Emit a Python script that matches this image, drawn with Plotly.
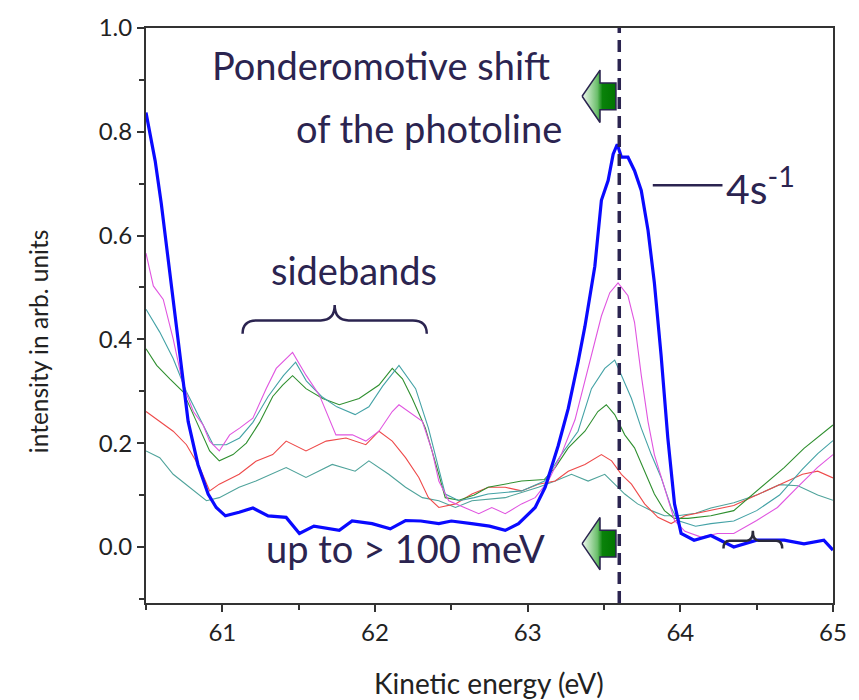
import plotly.graph_objects as go

# ---------------- data ----------------
blue_x = [60.5, 60.56, 60.60, 60.657, 60.72, 60.776, 60.84, 60.907, 60.96, 61.02, 61.11, 61.2, 61.3, 61.418,
          61.505, 61.6, 61.766, 61.85, 61.981, 62.1, 62.2, 62.3, 62.418, 62.5, 62.633, 62.75, 62.853, 62.94,
          63.049, 63.115, 63.2, 63.266, 63.33, 63.375, 63.44, 63.483, 63.527, 63.56, 63.587, 63.614, 63.657,
          63.70, 63.744, 63.788, 63.83, 63.874, 63.918, 63.962, 64.005, 64.09, 64.2, 64.35, 64.5, 64.68,
          64.81, 64.94, 65.0]
blue_y = [0.837, 0.744, 0.662, 0.525, 0.382, 0.242, 0.159, 0.102, 0.076, 0.060, 0.067, 0.075, 0.060, 0.057,
          0.026, 0.040, 0.032, 0.050, 0.045, 0.035, 0.051, 0.050, 0.045, 0.050, 0.045, 0.040, 0.032, 0.045,
          0.076, 0.115, 0.195, 0.267, 0.356, 0.425, 0.541, 0.668, 0.706, 0.757, 0.776, 0.751, 0.751,
          0.725, 0.687, 0.611, 0.509, 0.369, 0.210, 0.083, 0.026, 0.013, 0.022, 0.000, 0.013, 0.013,
          0.006, 0.013, -0.006]

magenta_x = [60.5, 60.548, 60.613, 60.678, 60.743, 60.81, 60.874, 60.917, 60.98, 61.048, 61.113, 61.2, 61.287,
             61.353, 61.46, 61.548, 61.635, 61.70, 61.744, 61.852, 61.94, 62.026, 62.113, 62.157, 62.244, 62.31,
             62.374, 62.418, 62.483, 62.59, 62.68, 62.765, 62.853, 62.96, 63.049, 63.135, 63.22, 63.31, 63.418,
             63.483, 63.538, 63.592, 63.657, 63.70, 63.744, 63.788, 63.83, 63.896, 63.962, 64.03, 64.136,
             64.244, 64.35, 64.5, 64.636, 64.766, 64.897, 65.0]
magenta_y = [0.566, 0.503, 0.477, 0.401, 0.312, 0.261, 0.235, 0.204, 0.185, 0.216, 0.229, 0.248, 0.305,
             0.344, 0.375, 0.331, 0.293, 0.248, 0.216, 0.216, 0.204, 0.223, 0.261, 0.274, 0.255, 0.242,
             0.185, 0.127, 0.089, 0.076, 0.064, 0.076, 0.064, 0.083, 0.095, 0.127, 0.178, 0.245, 0.370,
             0.445, 0.490, 0.509, 0.484, 0.433, 0.331, 0.242, 0.178, 0.115, 0.051, 0.030, 0.019,
             0.026, 0.026, 0.051, 0.076, 0.115, 0.153, 0.178]

teal1_x = [60.5, 60.59, 60.678, 60.765, 60.852, 60.94, 61.026, 61.113, 61.2, 61.3, 61.4, 61.48, 61.55, 61.65,
           61.75, 61.87, 61.96, 62.05, 62.157, 62.266, 62.35, 62.418, 62.46, 62.55, 62.65, 62.74, 62.85, 62.96,
           63.11, 63.22, 63.33, 63.418, 63.505, 63.57, 63.614, 63.68, 63.744, 63.81, 63.874, 63.94, 63.983,
           64.1, 64.2, 64.35, 64.5, 64.65, 64.8, 64.9, 65.0]
teal1_y = [0.458, 0.414, 0.363, 0.299, 0.248, 0.197, 0.197, 0.210, 0.240, 0.290, 0.330, 0.356, 0.320, 0.290,
           0.270, 0.255, 0.270, 0.310, 0.350, 0.305, 0.229, 0.153, 0.102, 0.089, 0.095, 0.102, 0.105, 0.108,
           0.127, 0.178, 0.223, 0.305, 0.344, 0.360, 0.331, 0.286, 0.229, 0.178, 0.134, 0.076, 0.051,
           0.040, 0.045, 0.050, 0.070, 0.100, 0.150, 0.180, 0.205]

green_x = [60.5, 60.57, 60.656, 60.743, 60.83, 60.917, 60.98, 61.07, 61.157, 61.244, 61.33, 61.395, 61.46,
           61.548, 61.657, 61.766, 61.896, 62.026, 62.113, 62.18, 62.244, 62.33, 62.418, 62.46, 62.55, 62.65,
           62.74, 62.96, 63.11, 63.18, 63.266, 63.375, 63.46, 63.515, 63.57, 63.636, 63.70, 63.766, 63.83,
           63.896, 63.96, 64.05, 64.2, 64.35, 64.5, 64.68, 64.81, 65.0]
green_y = [0.382, 0.350, 0.324, 0.299, 0.242, 0.185, 0.166, 0.178, 0.200, 0.240, 0.290, 0.312, 0.330,
           0.305, 0.286, 0.274, 0.286, 0.312, 0.344, 0.324, 0.286, 0.229, 0.140, 0.095, 0.090, 0.100,
           0.115, 0.127, 0.130, 0.153, 0.191, 0.223, 0.261, 0.274, 0.255, 0.216, 0.191, 0.146, 0.102,
           0.070, 0.055, 0.055, 0.060, 0.070, 0.108, 0.153, 0.190, 0.235]

red_x = [60.5, 60.59, 60.678, 60.765, 60.852, 60.917, 60.98, 61.11, 61.22, 61.33, 61.418, 61.548, 61.68, 61.81,
         61.94, 62.026, 62.113, 62.2, 62.287, 62.35, 62.418, 62.527, 62.635, 62.744, 62.853, 62.96, 63.07,
         63.18, 63.266, 63.375, 63.483, 63.55, 63.614, 63.68, 63.766, 63.853, 63.94, 64.03, 64.2, 64.35,
         64.5, 64.65, 64.8, 64.9, 65.0]
red_y = [0.261, 0.242, 0.223, 0.197, 0.153, 0.108, 0.121, 0.140, 0.165, 0.178, 0.204, 0.185, 0.204, 0.210,
         0.197, 0.223, 0.204, 0.172, 0.134, 0.095, 0.076, 0.083, 0.102, 0.115, 0.115, 0.108, 0.121,
         0.127, 0.146, 0.159, 0.178, 0.166, 0.140, 0.121, 0.083, 0.057, 0.045, 0.060, 0.070, 0.080,
         0.100, 0.120, 0.140, 0.146, 0.133]

teal2_x = [60.5, 60.59, 60.678, 60.786, 60.896, 60.98, 61.11, 61.22, 61.418, 61.548, 61.72, 61.87, 61.96,
           62.09, 62.2, 62.31, 62.418, 62.527, 62.635, 62.853, 63.07, 63.18, 63.287, 63.396, 63.505, 63.57,
           63.636, 63.72, 63.81, 63.896, 63.983, 64.1, 64.2, 64.35, 64.5, 64.65, 64.77, 64.9, 65.0]
teal2_y = [0.185, 0.172, 0.140, 0.115, 0.089, 0.095, 0.115, 0.127, 0.153, 0.134, 0.159, 0.146, 0.166,
           0.140, 0.115, 0.095, 0.089, 0.076, 0.089, 0.095, 0.115, 0.127, 0.140, 0.127, 0.140, 0.121,
           0.102, 0.083, 0.070, 0.060, 0.060, 0.065, 0.075, 0.085, 0.100, 0.120, 0.118, 0.100, 0.090]

photoline_energy = 63.6
x_ticks = [61, 62, 63, 64, 65]
y_ticks = [0.0, 0.2, 0.4, 0.6, 0.8, 1.0]

# ---------------- figure ----------------
W, H = 859, 700
L, R, T, B = 146, 836, 22, 603
INK = "#2b2450"
FONT = "Lato"


def fx(px):
    return (px - L) / (R - L)


def fy(py):
    return (B - py) / (B - T)


fig = go.Figure()
series = [
    (teal2_x, teal2_y, "#4fa39b", 1.1),
    (red_x, red_y, "#ee4a4a", 1.1),
    (green_x, green_y, "#2f8f2f", 1.1),
    (teal1_x, teal1_y, "#44a2a6", 1.1),
    (magenta_x, magenta_y, "#e055e0", 1.1),
    (blue_x, blue_y, "#0a0aff", 3.2),
]
for xs, ys, c, w in series:
    fig.add_trace(go.Scatter(x=xs, y=ys, mode="lines", line=dict(color=c, width=w),
                             showlegend=False, hoverinfo="skip"))


# gradient arrows (paper-like overlay axes)
def arrow(cx, cy):
    xs = [cx - 17, cx + 1, cx + 1, cx + 17, cx + 17, cx + 1, cx + 1, cx - 17]
    ys = [cy, cy - 26.5, cy - 13.5, cy - 13.5, cy + 13.5, cy + 13.5, cy + 26.5, cy]
    return [fx(v) for v in xs], [fy(v) for v in ys]


for cy in (91, 543):
    ax, ay = arrow(601, cy)
    fig.add_trace(go.Scatter(
        x=ax, y=ay, xaxis="x2", yaxis="y2", mode="lines", fill="toself",
        line=dict(color=INK, width=1.5),
        fillgradient=dict(type="horizontal",
                          colorscale=[[0, "#f2f9f2"], [0.45, "#6cbf6c"], [0.6, "#0a820a"], [1, "#007500"]]),
        showlegend=False, hoverinfo="skip"))

shapes = [
    dict(type="line", xref="x", yref="paper", x0=photoline_energy, x1=photoline_energy, y0=0, y1=1,
         line=dict(color=INK, width=3.5, dash="12px,7px")),
    dict(type="line", xref="paper", yref="paper", x0=fx(655), x1=fx(725), y0=fy(181), y1=fy(181),
         line=dict(color=INK, width=2.5)),
]


def brace(x0, x1, ybase, ytop, r, color, width):
    xm = (x0 + x1) / 2
    ym = (ybase + ytop) / 2 + 1
    pts = (f"M {fx(x0)},{fy(ybase)} Q {fx(x0)},{fy(ym)} {fx(x0 + r)},{fy(ym)} "
           f"L {fx(xm - r)},{fy(ym)} Q {fx(xm)},{fy(ym)} {fx(xm)},{fy(ytop)} "
           f"Q {fx(xm)},{fy(ym)} {fx(xm + r)},{fy(ym)} L {fx(x1 - r)},{fy(ym)} "
           f"Q {fx(x1)},{fy(ym)} {fx(x1)},{fy(ybase)}")
    return dict(type="path", xref="paper", yref="paper", path=pts, line=dict(color=color, width=width))


shapes.append(brace(243, 428, 331, 302, 14, INK, 2.5))
shapes.append(brace(726, 785, 548, 530, 6, "#2a2a3a", 2.5))

ann_font = dict(family=FONT, size=38, color=INK)
annotations = [
    dict(text="Ponderomotive shift", x=fx(382), y=fy(59), xref="paper", yref="paper",
         showarrow=False, font=ann_font, xanchor="center", yanchor="middle"),
    dict(text="of the photoline", x=fx(430), y=fy(123), xref="paper", yref="paper",
         showarrow=False, font=ann_font, xanchor="center", yanchor="middle"),
    dict(text="sidebands", x=fx(355), y=fy(267), xref="paper", yref="paper",
         showarrow=False, font=ann_font, xanchor="center", yanchor="middle"),
    dict(text="up to > 100 meV", x=fx(407), y=fy(547), xref="paper", yref="paper",
         showarrow=False, font=ann_font, xanchor="center", yanchor="middle"),
    dict(text="4s<sup>-1</sup>", x=fx(727), y=fy(182), xref="paper", yref="paper",
         showarrow=False, font=dict(family=FONT, size=41, color=INK), xanchor="left", yanchor="middle"),
    dict(text="intensity in arb. units", x=fx(38), y=fy(338), xref="paper", yref="paper",
         showarrow=False, textangle=-90, font=dict(family=FONT, size=24.5, color="#222222"),
         xanchor="center", yanchor="middle"),
    dict(text="Kinetic energy (eV)", x=fx(490), y=fy(684), xref="paper", yref="paper",
         showarrow=False, font=dict(family=FONT, size=28, color="#222222"),
         xanchor="center", yanchor="middle"),
]

axis_common = dict(showline=True, mirror=True, linecolor="#333333", linewidth=2,
                   ticks="outside", ticklen=7, tickwidth=2, tickcolor="#333333",
                   showgrid=False, zeroline=False,
                   tickfont=dict(family=FONT, size=24, color="#222222"))

fig.update_layout(
    width=W, height=H,
    margin=dict(l=L, r=W - R, t=T, b=H - B),
    paper_bgcolor="white", plot_bgcolor="white",
    xaxis=dict(range=[60.5, 65], tickvals=x_ticks,
               minor=dict(ticks="outside", ticklen=5, tickwidth=2, dtick=0.5, tick0=60.5, tickcolor="#333333"),
               **axis_common),
    yaxis=dict(range=[-0.108, 1.0], tickvals=y_ticks, tickformat=".1f",
               minor=dict(ticks="outside", ticklen=5, tickwidth=2, dtick=0.1, tick0=0, tickcolor="#333333"),
               **axis_common),
    xaxis2=dict(overlaying="x", range=[0, 1], visible=False, fixedrange=True),
    yaxis2=dict(overlaying="y", range=[0, 1], visible=False, fixedrange=True),
    shapes=shapes,
    annotations=annotations,
)

fig.write_html("out.html")
